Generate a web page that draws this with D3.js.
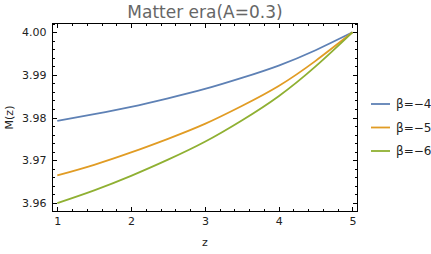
<!DOCTYPE html>
<meta charset="utf-8">
<style>
body { margin: 0; background: #fff; }
text { font-family: "DejaVu Sans", sans-serif; }
.axis path { display: none; }
.axis line { stroke: #000; shape-rendering: crispEdges; }
.axis text { font-size: 11px; fill: #222; }
.frame { fill: none; stroke: #000; shape-rendering: crispEdges; }
.curve { fill: none; stroke-width: 1.8; }
</style>
<body>
<div id="chart"></div>
<script src="https://d3js.org/d3.v7.min.js"></script>
<script>

// data
var zs = [1, 1.5, 2, 2.5, 3, 3.5, 4, 4.5, 5];
var beta4 = [3.9792, 3.9808, 3.9825, 3.9845, 3.9867, 3.9893, 3.9922, 3.9958, 4.0];
var beta5 = [3.9664, 3.9689, 3.9718, 3.9750, 3.9785, 3.9827, 3.9874, 3.9933, 4.0];
var beta6 = [3.9599, 3.9629, 3.9663, 3.9701, 3.9743, 3.9793, 3.9850, 3.9920, 4.0];
var seriesNames = ["\u03b2=\u22124", "\u03b2=\u22125", "\u03b2=\u22126"];
var colors = ["#5e81b5", "#e19c24", "#8fb032"];
var xTicks = [1, 2, 3, 4, 5];
var yTicks = [3.96, 3.97, 3.98, 3.99, 4.00];

var W = 431, H = 254;
var plotL = 52.5, plotR = 357.5, plotT = 23.5, plotB = 211.5;

var svg = d3.select("#chart").append("svg")
    .attr("width", W)
    .attr("height", H);

var x = d3.scaleLinear().domain([0.935, 5.068]).range([plotL, plotR]);
var y = d3.scaleLinear().domain([3.95793, 4.00207]).range([plotB, plotT]);

var xMinor = d3.range(0.8, 5.21, 0.2).filter(function(v) { return v > 0.935 && v < 5.068; });
var yMinor = d3.range(3.958, 4.0021, 0.002).filter(function(v) { return v > 3.95793 && v < 4.00207; });

// ticks, all pointing inwards
function addAxis(axisFn, tr, vals, size, labels, fmt) {
  var a = axisFn.tickValues(vals).tickSizeInner(-size).tickSizeOuter(0).tickPadding(6);
  a.tickFormat(labels ? fmt : function() { return ""; });
  svg.append("g").attr("class", "axis").attr("transform", tr).call(a);
}
addAxis(d3.axisBottom(x), "translate(0," + plotB + ")", xMinor, 2.5, false);
addAxis(d3.axisBottom(x), "translate(0," + plotB + ")", xTicks, 4.5, true, d3.format("d"));
addAxis(d3.axisTop(x), "translate(0," + plotT + ")", xMinor, 2.5, false);
addAxis(d3.axisTop(x), "translate(0," + plotT + ")", xTicks, 4.5, false);
addAxis(d3.axisLeft(y), "translate(" + plotL + ",0)", yMinor, 2.5, false);
addAxis(d3.axisLeft(y), "translate(" + plotL + ",0)", yTicks, 4.5, true, d3.format(".2f"));
addAxis(d3.axisRight(y), "translate(" + plotR + ",0)", yMinor, 2.5, false);
addAxis(d3.axisRight(y), "translate(" + plotR + ",0)", yTicks, 4.5, false);

svg.append("rect")
    .attr("class", "frame")
    .attr("x", plotL)
    .attr("y", plotT)
    .attr("width", plotR - plotL)
    .attr("height", plotB - plotT);

// curves
var line = d3.line()
    .x(function(d) { return x(d[0]); })
    .y(function(d) { return y(d[1]); })
    .curve(d3.curveNatural);

[beta4, beta5, beta6].forEach(function(vals, i) {
  svg.append("path")
      .attr("class", "curve")
      .attr("stroke", colors[i])
      .attr("d", line(d3.zip(zs, vals)));
});

// title and axis labels
svg.append("text")
    .attr("x", (plotL + plotR) / 2)
    .attr("y", 18)
    .attr("text-anchor", "middle")
    .style("font-size", "17px")
    .style("fill", "#666")
    .text("Matter era(A=0.3)");

svg.append("text")
    .attr("x", (plotL + plotR) / 2)
    .attr("y", 246)
    .attr("text-anchor", "middle")
    .style("font-size", "11px")
    .style("fill", "#222")
    .text("z");

svg.append("text")
    .attr("transform", "translate(13," + ((plotT + plotB) / 2) + ") rotate(-90)")
    .attr("text-anchor", "middle")
    .style("font-size", "11px")
    .style("fill", "#222")
    .text("M(z)");

// legend
var legend = svg.append("g").attr("transform", "translate(371,104)");
seriesNames.forEach(function(name, i) {
  var g = legend.append("g").attr("transform", "translate(0," + (i * 23.5) + ")");
  g.append("line")
      .attr("x1", 0).attr("x2", 19)
      .attr("y1", 0).attr("y2", 0)
      .attr("stroke", colors[i])
      .attr("stroke-width", 1.8);
  g.append("text")
      .attr("x", 25)
      .attr("y", 4)
      .style("font-size", "12px")
      .style("fill", "#222")
      .text(name);
});

</script>
</body>
